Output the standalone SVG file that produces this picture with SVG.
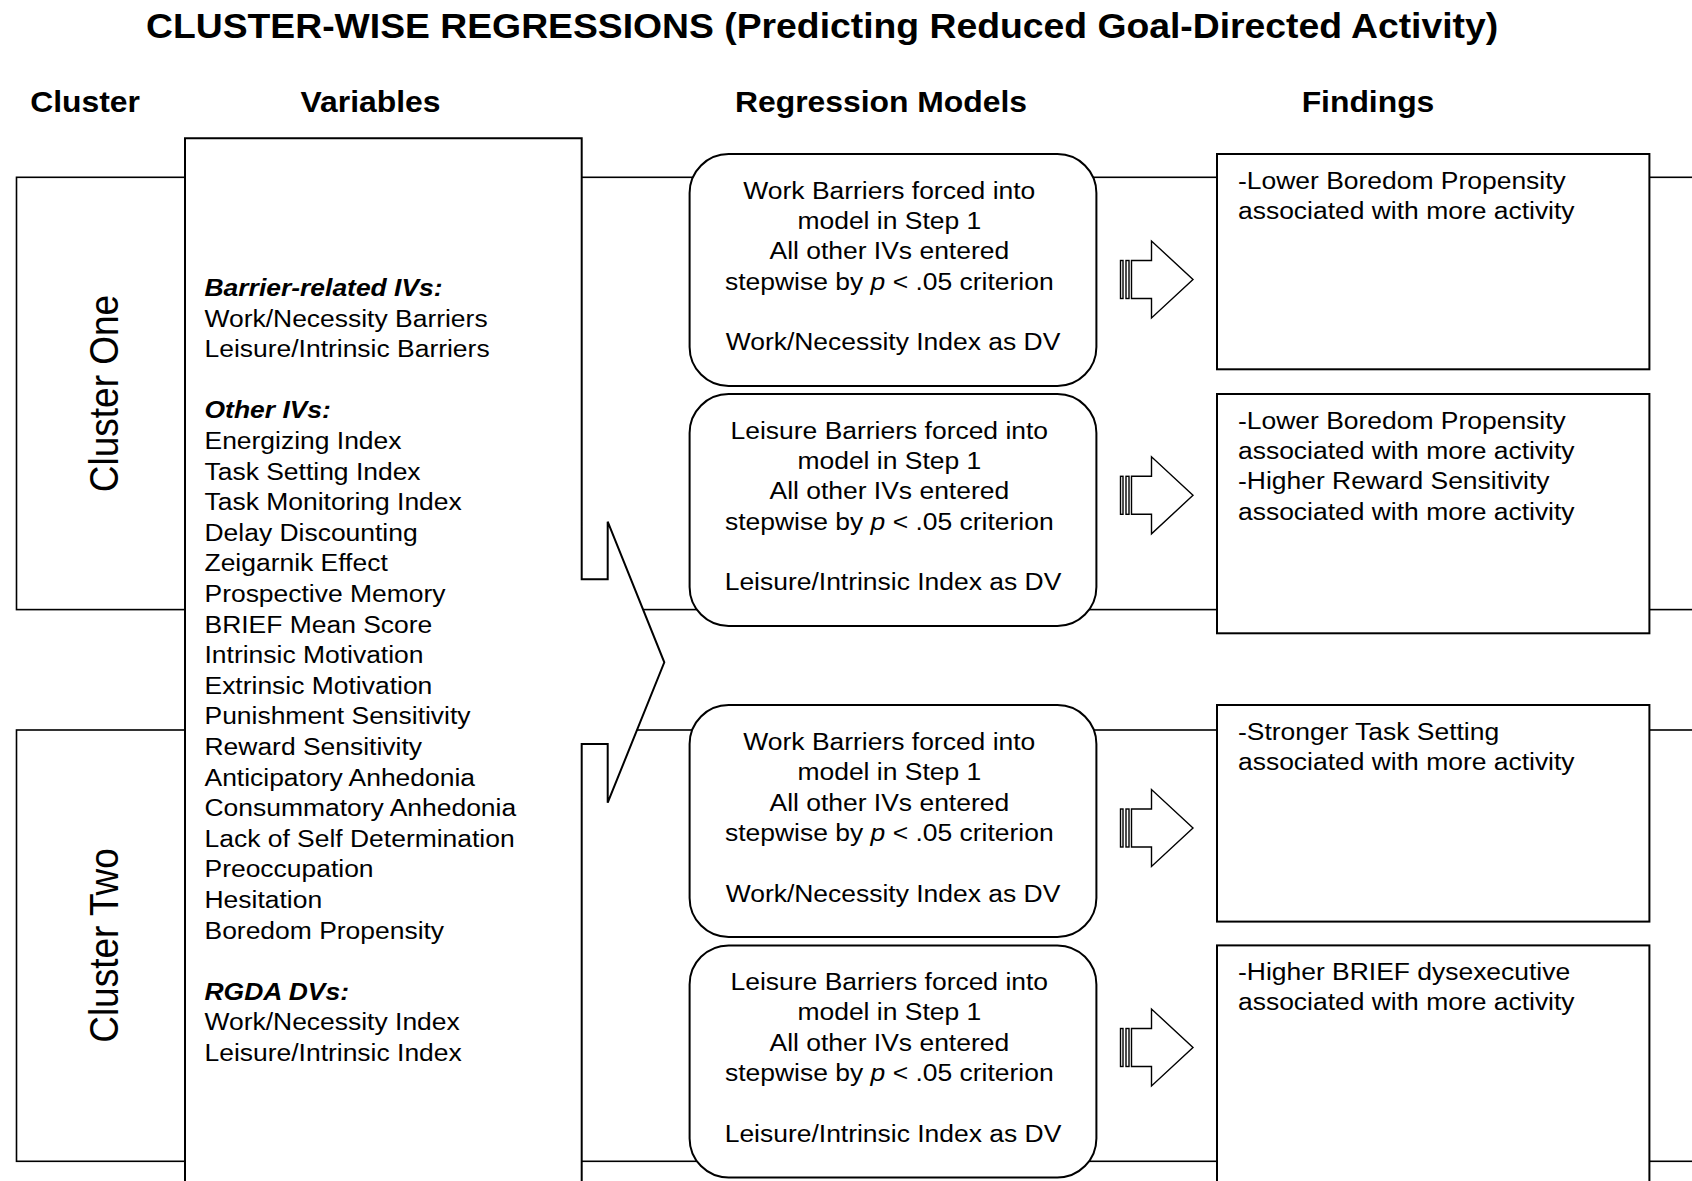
<svg xmlns="http://www.w3.org/2000/svg" width="1692" height="1181" viewBox="0 0 1692 1181">
  <style>
    .band { fill: none; stroke: #000; stroke-width: 1.6; }
    .box { fill: #fff; stroke: #000; stroke-width: 2; }
    .arrow { fill: #fff; stroke: #000; stroke-width: 1.4; }
    text { font-family: "Liberation Sans", Arial, sans-serif; fill: #000; }
    .title { font-size: 34.3px; font-weight: bold; }
    .head { font-size: 29.5px; font-weight: bold; text-anchor: middle; }
    .body { font-size: 24.5px; }
    .mid { text-anchor: middle; }
    .bi { font-weight: bold; font-style: italic; }
    .it { font-style: italic; }
    .cl { font-size: 37px; text-anchor: middle; }
  </style>

  <rect width="1692" height="1181" fill="#fff"/>

  <!-- title and column headers -->
  <text class="title" transform="translate(146,37.5) scale(1.088,1)">CLUSTER-WISE REGRESSIONS (Predicting Reduced Goal-Directed Activity)</text>
  <text class="head" transform="translate(85,112) scale(1.08,1)">Cluster</text>
  <text class="head" transform="translate(370.5,112) scale(1.08,1)">Variables</text>
  <text class="head" transform="translate(881,112) scale(1.08,1)">Regression Models</text>
  <text class="head" transform="translate(1368,112) scale(1.08,1)">Findings</text>

  <!-- cluster bands run across the full width, behind the other boxes -->
  <g id="cluster-one">
    <rect class="band" x="16.5" y="177.3" width="1720" height="432.3"/>
    <text class="cl" transform="translate(118,393.5) scale(1.08,1) rotate(-90)">Cluster One</text>
  </g>
  <g id="cluster-two">
    <rect class="band" x="16.5" y="730" width="1720" height="431.3"/>
    <text class="cl" transform="translate(118,945.5) scale(1.08,1) rotate(-90)">Cluster Two</text>
  </g>

  <!-- variables callout box with wedge pointing to the models -->
  <g id="variables">
    <path class="box" d="M185,138.3 H581.7 V579.3 H607.7 V521.7 L664.3,662.3 L607.7,802.7 V744 H581.7 V1200 H185 Z"/>
    <text class="body" transform="translate(204.5,296) scale(1.08,1)">
      <tspan x="0" dy="0" class="bi">Barrier-related IVs:</tspan>
      <tspan x="0" dy="30.6">Work/Necessity Barriers</tspan>
      <tspan x="0" dy="30.6">Leisure/Intrinsic Barriers</tspan>
      <tspan x="0" dy="61.2" class="bi">Other IVs:</tspan>
      <tspan x="0" dy="30.6">Energizing Index</tspan>
      <tspan x="0" dy="30.6">Task Setting Index</tspan>
      <tspan x="0" dy="30.6">Task Monitoring Index</tspan>
      <tspan x="0" dy="30.6">Delay Discounting</tspan>
      <tspan x="0" dy="30.6">Zeigarnik Effect</tspan>
      <tspan x="0" dy="30.6">Prospective Memory</tspan>
      <tspan x="0" dy="30.6">BRIEF Mean Score</tspan>
      <tspan x="0" dy="30.6">Intrinsic Motivation</tspan>
      <tspan x="0" dy="30.6">Extrinsic Motivation</tspan>
      <tspan x="0" dy="30.6">Punishment Sensitivity</tspan>
      <tspan x="0" dy="30.6">Reward Sensitivity</tspan>
      <tspan x="0" dy="30.6">Anticipatory Anhedonia</tspan>
      <tspan x="0" dy="30.6">Consummatory Anhedonia</tspan>
      <tspan x="0" dy="30.6">Lack of Self Determination</tspan>
      <tspan x="0" dy="30.6">Preoccupation</tspan>
      <tspan x="0" dy="30.6">Hesitation</tspan>
      <tspan x="0" dy="30.6">Boredom Propensity</tspan>
      <tspan x="0" dy="61.2" class="bi">RGDA DVs:</tspan>
      <tspan x="0" dy="30.6">Work/Necessity Index</tspan>
      <tspan x="0" dy="30.6">Leisure/Intrinsic Index</tspan>
    </text>
  </g>

  <!-- regression model boxes -->
  <g id="model-c1-work">
    <rect class="box" x="689.6" y="154" width="406.8" height="232" rx="39" ry="39"/>
    <text class="body mid" transform="translate(893,198.5) scale(1.08,1)">
      <tspan x="0" dy="0">Work Barriers forced into</tspan>
      <tspan x="0" dy="30.4">model in Step 1</tspan>
      <tspan x="0" dy="30.4">All other IVs entered</tspan>
      <tspan x="0" dy="30.4">stepwise by <tspan class="it">p</tspan> &lt; .05 criterion</tspan>
      <tspan x="0" dy="60.8">Work/Necessity Index as DV</tspan>
    </text>
  </g>
  <g id="model-c1-leisure">
    <rect class="box" x="689.6" y="394" width="406.8" height="232" rx="39" ry="39"/>
    <text class="body mid" transform="translate(893,438.5) scale(1.08,1)">
      <tspan x="0" dy="0">Leisure Barriers forced into</tspan>
      <tspan x="0" dy="30.4">model in Step 1</tspan>
      <tspan x="0" dy="30.4">All other IVs entered</tspan>
      <tspan x="0" dy="30.4">stepwise by <tspan class="it">p</tspan> &lt; .05 criterion</tspan>
      <tspan x="0" dy="60.8">Leisure/Intrinsic Index as DV</tspan>
    </text>
  </g>
  <g id="model-c2-work">
    <rect class="box" x="689.6" y="705" width="406.8" height="232" rx="39" ry="39"/>
    <text class="body mid" transform="translate(893,750) scale(1.08,1)">
      <tspan x="0" dy="0">Work Barriers forced into</tspan>
      <tspan x="0" dy="30.4">model in Step 1</tspan>
      <tspan x="0" dy="30.4">All other IVs entered</tspan>
      <tspan x="0" dy="30.4">stepwise by <tspan class="it">p</tspan> &lt; .05 criterion</tspan>
      <tspan x="0" dy="60.8">Work/Necessity Index as DV</tspan>
    </text>
  </g>
  <g id="model-c2-leisure">
    <rect class="box" x="689.6" y="945.4" width="406.8" height="232" rx="39" ry="39"/>
    <text class="body mid" transform="translate(893,990) scale(1.08,1)">
      <tspan x="0" dy="0">Leisure Barriers forced into</tspan>
      <tspan x="0" dy="30.4">model in Step 1</tspan>
      <tspan x="0" dy="30.4">All other IVs entered</tspan>
      <tspan x="0" dy="30.4">stepwise by <tspan class="it">p</tspan> &lt; .05 criterion</tspan>
      <tspan x="0" dy="60.8">Leisure/Intrinsic Index as DV</tspan>
    </text>
  </g>

  <!-- findings boxes -->
  <g id="finding-c1-work">
    <rect class="box" x="1217" y="154" width="432.4" height="215.3"/>
    <text class="body" transform="translate(1238,188.5) scale(1.08,1)">
      <tspan x="0" dy="0">-Lower Boredom Propensity</tspan>
      <tspan x="0" dy="30.4">associated with more activity</tspan>
    </text>
  </g>
  <g id="finding-c1-leisure">
    <rect class="box" x="1217" y="394" width="432.4" height="239.3"/>
    <text class="body" transform="translate(1238,428.5) scale(1.08,1)">
      <tspan x="0" dy="0">-Lower Boredom Propensity</tspan>
      <tspan x="0" dy="30.4">associated with more activity</tspan>
      <tspan x="0" dy="30.4">-Higher Reward Sensitivity</tspan>
      <tspan x="0" dy="30.4">associated with more activity</tspan>
    </text>
  </g>
  <g id="finding-c2-work">
    <rect class="box" x="1217" y="705" width="432.4" height="216.6"/>
    <text class="body" transform="translate(1238,740) scale(1.08,1)">
      <tspan x="0" dy="0">-Stronger Task Setting</tspan>
      <tspan x="0" dy="30.4">associated with more activity</tspan>
    </text>
  </g>
  <g id="finding-c2-leisure">
    <rect class="box" x="1217" y="945.4" width="432.4" height="260"/>
    <text class="body" transform="translate(1238,980) scale(1.08,1)">
      <tspan x="0" dy="0">-Higher BRIEF dysexecutive</tspan>
      <tspan x="0" dy="30.4">associated with more activity</tspan>
    </text>
  </g>

  <!-- striped block arrows from each model to its finding -->
  <defs>
    <g id="striped-arrow">
      <rect class="arrow" x="1120.5" y="-19" width="2.5" height="38"/>
      <rect class="arrow" x="1126" y="-19" width="3" height="38"/>
      <path class="arrow" d="M1131.5,-19 H1151.5 V-38.5 L1193,0 L1151.5,38.5 V19 H1131.5 Z"/>
    </g>
  </defs>
  <g id="connectors">
    <use href="#striped-arrow" transform="translate(0,279.5)"/>
    <use href="#striped-arrow" transform="translate(0,495.3)"/>
    <use href="#striped-arrow" transform="translate(0,828)"/>
    <use href="#striped-arrow" transform="translate(0,1047.5)"/>
  </g>
</svg>
